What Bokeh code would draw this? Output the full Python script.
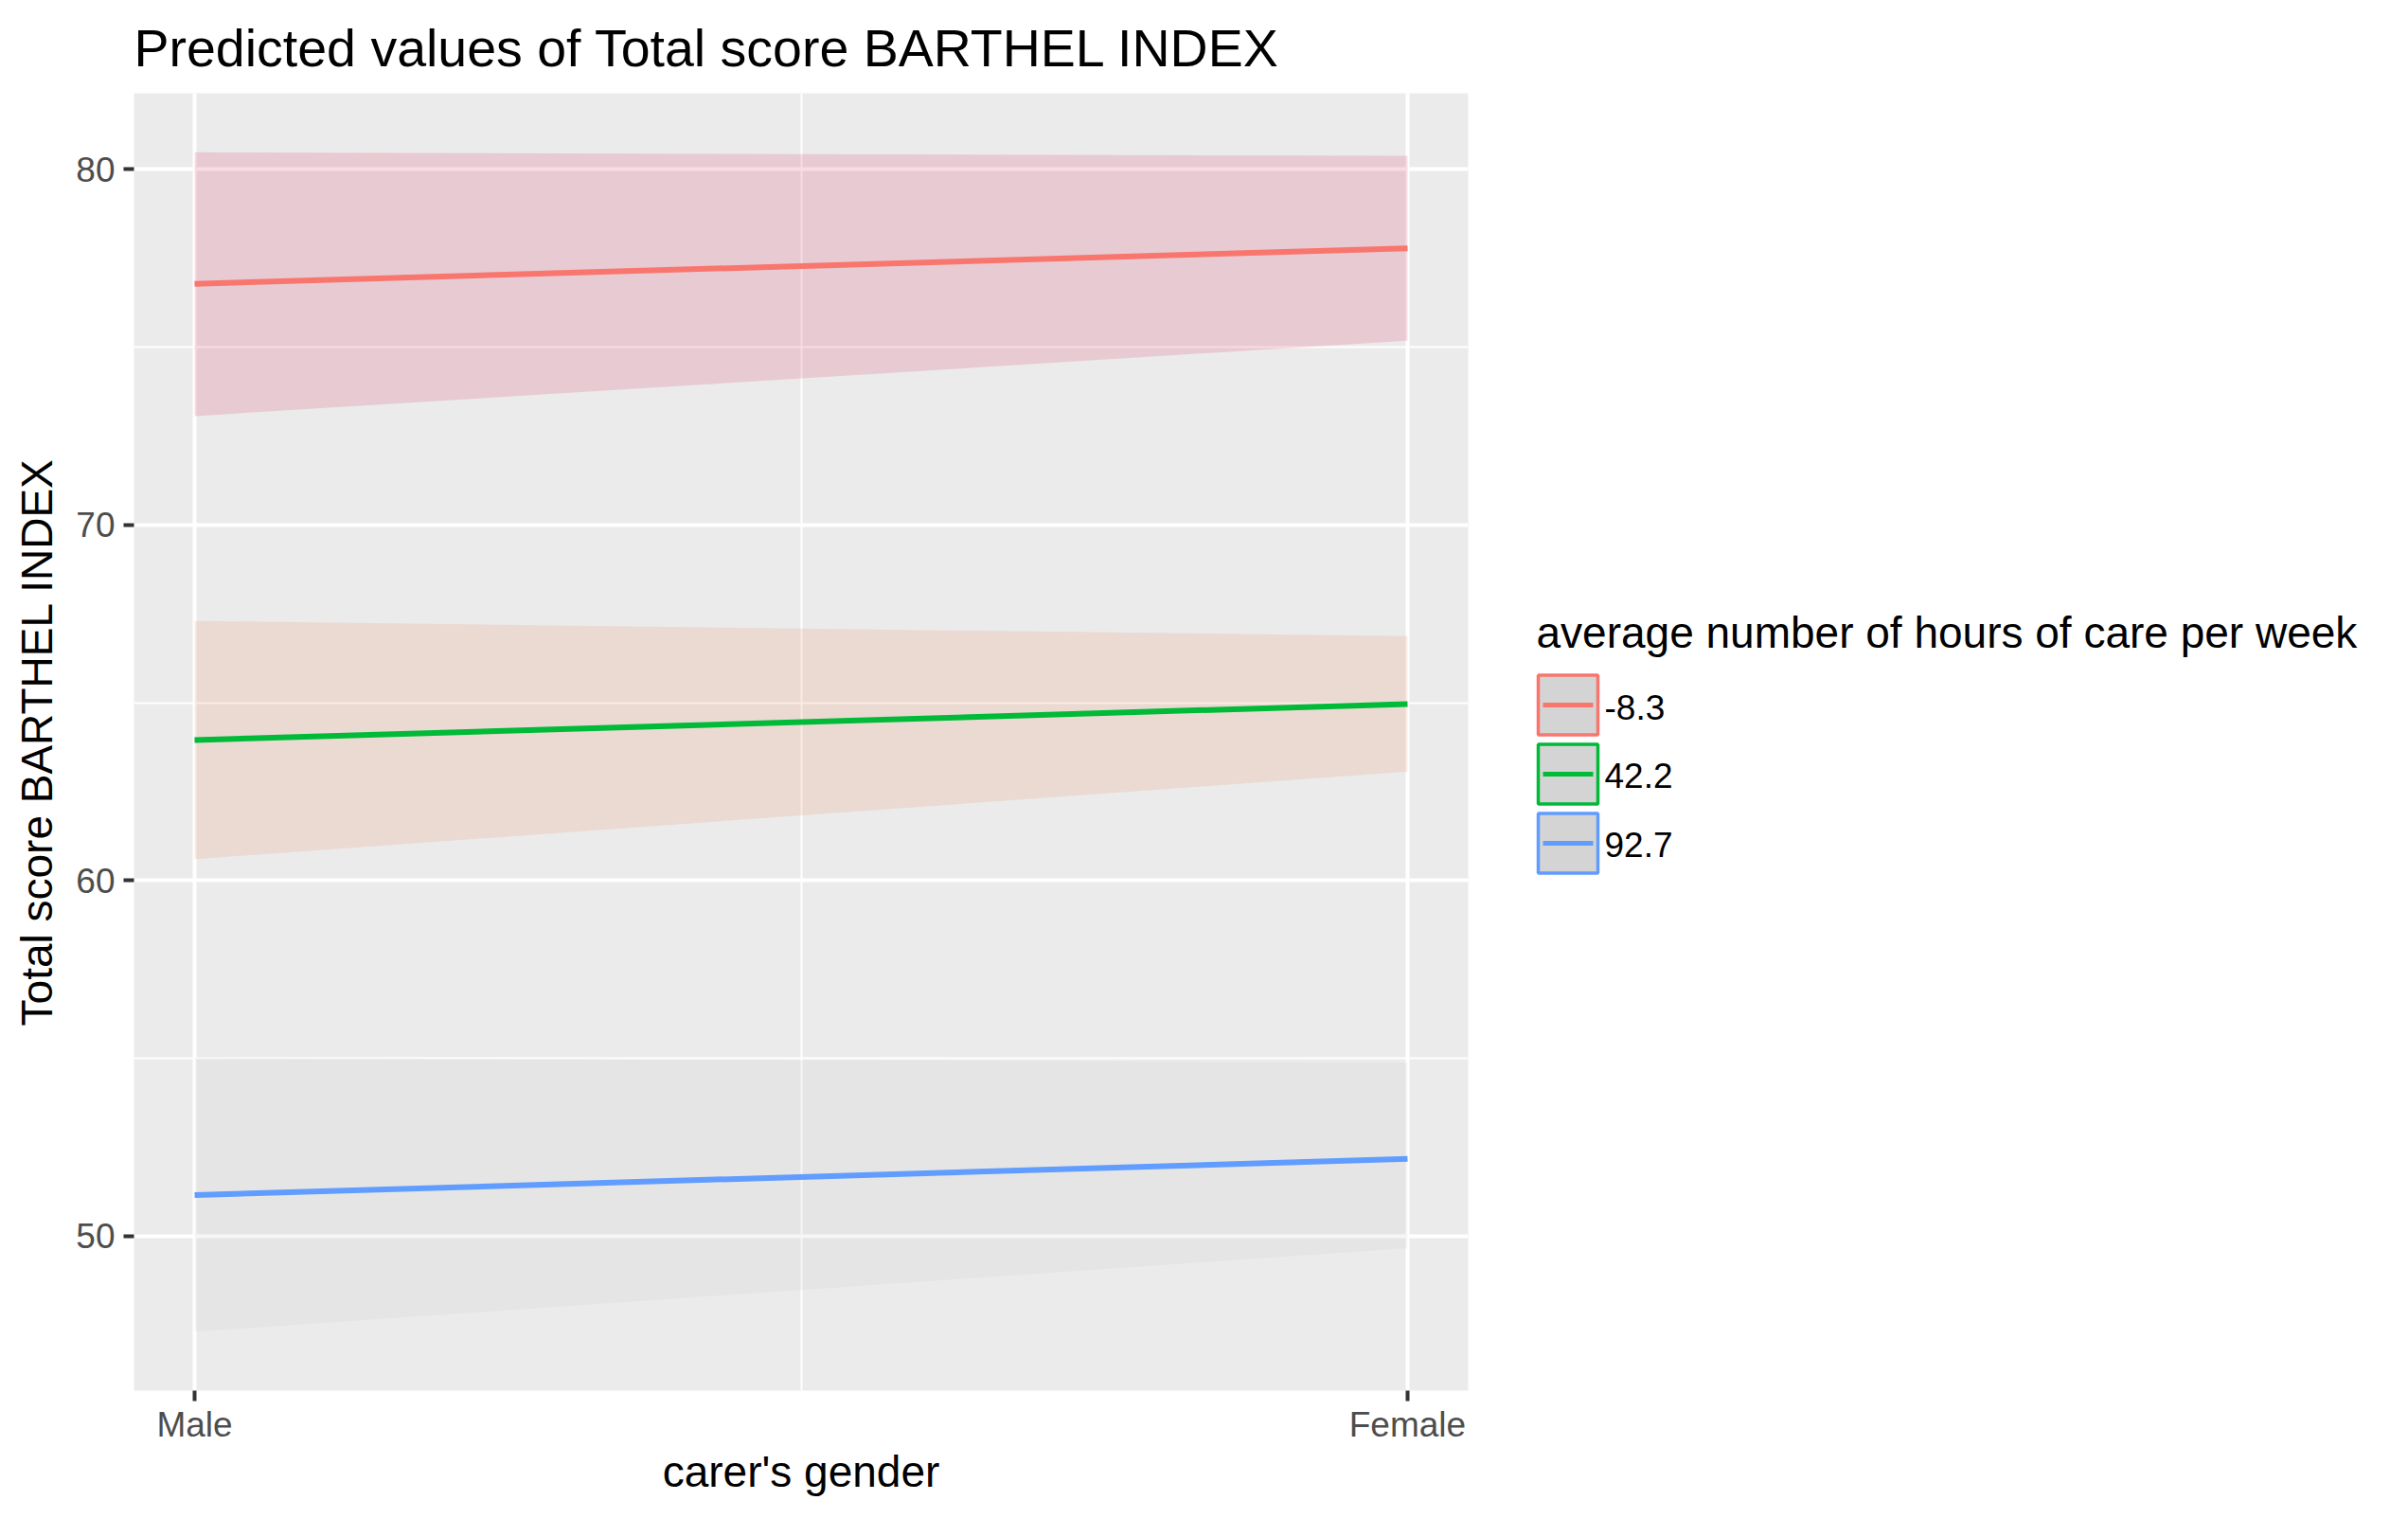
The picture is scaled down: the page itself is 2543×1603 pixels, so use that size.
from bokeh.plotting import figure
from bokeh.models import Range1d, FixedTicker
from bokeh.layouts import row
from bokeh.embed import file_html
from bokeh.resources import INLINE
from bokeh.core.properties import value

# ---------------- data ----------------
gender_x = [0, 1]
gender_labels = ["Male", "Female"]
groups = ["-8.3", "42.2", "92.7"]

pred_m83 = [76.78, 77.78]
low_m83 = [73.06, 75.18]
high_m83 = [80.48, 80.38]

pred_422 = [63.95, 64.96]
low_422 = [60.60, 63.06]
high_422 = [67.30, 66.87]

pred_927 = [51.15, 52.17]
low_927 = [47.31, 49.66]
high_927 = [55.02, 54.87]

y_ticks = [50, 60, 70, 80]
y_minor = [45, 55, 65, 75]

line_colors = ["#F8766D", "#00BA38", "#619CFF"]
ribbon_colors = ["#D70F4B", "#E47A44", "#C3C3C3"]

preds = [pred_m83, pred_422, pred_927]
lows = [low_m83, low_422, low_927]
highs = [high_m83, high_422, high_927]

FONT = "Liberation Sans"

# page geometry (pixels)
FRAME_TOP = 97
FRAME_BOTTOM = 1468
PAGE_H = 1603

# y range like ggplot: 5% expansion of data range
all_vals = low_m83 + high_m83 + low_422 + high_422 + low_927 + high_927
vmin, vmax = min(all_vals), max(all_vals)
span = vmax - vmin
ylo, yhi = vmin - 0.05 * span, vmax + 0.05 * span

p = figure(width=1580, height=PAGE_H,
           x_range=Range1d(-0.05, 1.05), y_range=Range1d(ylo, yhi),
           output_backend="svg", toolbar_location=None,
           min_border_left=141, min_border_right=30,
           min_border_top=FRAME_TOP, min_border_bottom=PAGE_H - FRAME_BOTTOM)

p.background_fill_color = "#EBEBEB"
p.border_fill_color = "white"
p.outline_line_color = None

p.title.text = "Predicted values of Total score BARTHEL INDEX"
p.title.text_font = FONT
p.title.text_font_size = "55.5px"
p.title.text_font_style = "normal"
p.title.text_color = "black"
p.title.align = "left"
p.title.standoff = 34

p.xaxis.ticker = FixedTicker(ticks=gender_x, minor_ticks=[0.5])
p.xaxis.major_label_overrides = {gender_x[i]: gender_labels[i] for i in range(len(gender_x))}
p.yaxis.ticker = FixedTicker(ticks=y_ticks, minor_ticks=y_minor)

p.xaxis.axis_label = "carer's gender"
p.yaxis.axis_label = "Total score BARTHEL INDEX"

for ax in (p.xaxis[0], p.yaxis[0]):
    ax.axis_line_color = None
    ax.major_tick_line_color = "#333333"
    ax.major_tick_line_width = 4
    ax.major_tick_out = 11
    ax.major_tick_in = 0
    ax.minor_tick_line_color = None
    ax.major_label_text_font = FONT
    ax.major_label_text_font_size = "37px"
    ax.major_label_text_color = "#4D4D4D"
    ax.major_label_standoff = 9
    ax.axis_label_text_font = FONT
    ax.axis_label_text_font_size = "46px"
    ax.axis_label_text_font_style = "normal"
    ax.axis_label_text_color = "black"
    ax.axis_label_standoff = 11

p.xaxis[0].major_label_standoff = 4
p.xaxis[0].axis_label_standoff = 0
p.yaxis[0].axis_label_standoff = 12

for g in (p.xgrid[0], p.ygrid[0]):
    g.grid_line_color = "white"
    g.grid_line_width = 4
    g.minor_grid_line_color = "white"
    g.minor_grid_line_width = 2

for i in range(len(groups)):
    p.varea(x=gender_x, y1=lows[i], y2=highs[i],
            fill_color=ribbon_colors[i], fill_alpha=0.15)
for i in range(len(groups)):
    p.line(x=gender_x, y=preds[i], line_color=line_colors[i], line_width=6)

# ---------------- legend panel (coordinates = page pixels) ----------------
lf = figure(width=963, height=PAGE_H,
            x_range=Range1d(0, 963), y_range=Range1d(FRAME_BOTTOM, FRAME_TOP),
            output_backend="svg", toolbar_location=None,
            min_border_left=0, min_border_right=0,
            min_border_top=FRAME_TOP, min_border_bottom=PAGE_H - FRAME_BOTTOM)
lf.axis.visible = False
lf.grid.visible = False
lf.outline_line_color = None
lf.background_fill_color = "white"
lf.border_fill_color = "white"

leg_left = 42
key_size = 67
key_step = 73
key_top = 710
key_cx = [leg_left + key_size / 2] * len(groups)
key_cy = [key_top + key_size / 2 + i * key_step for i in range(len(groups))]

lf.text(x=[leg_left], y=[667], text=["average number of hours of care per week"],
        text_font=value(FONT), text_font_size=value("46px"),
        text_color="black", text_baseline="middle", text_align="left")

lf.rect(x=key_cx, y=key_cy, width=key_size - 4, height=key_size - 4,
        fill_color="#D4D4D4", line_color=line_colors, line_width=3.5)
lf.segment(x0=[leg_left + 7] * len(groups), y0=key_cy,
           x1=[leg_left + key_size - 7] * len(groups), y1=key_cy,
           line_color=line_colors, line_width=5)
lf.text(x=[leg_left + key_size + 5] * len(groups), y=[c + 2 for c in key_cy], text=groups,
        text_font=value(FONT), text_font_size=value("37px"),
        text_color="black", text_baseline="middle", text_align="left")

layout = row(p, lf)
open("out.html", "w").write(file_html(layout, INLINE))
